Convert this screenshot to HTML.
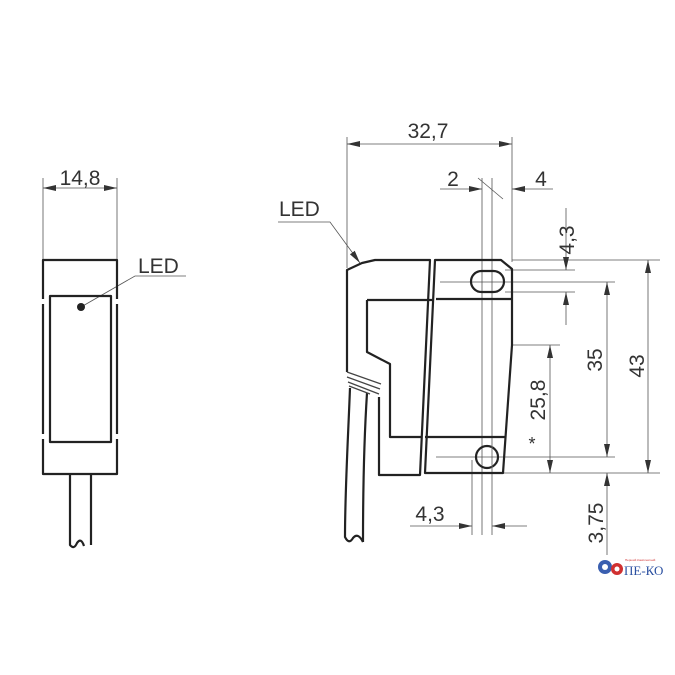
<!DOCTYPE html>
<html><head><meta charset="utf-8"><style>
html,body{margin:0;padding:0;background:#fff;}
svg{display:block;}
text{font-family:"Liberation Sans",sans-serif;fill:#333;}
</style></head><body>
<svg width="675" height="675" viewBox="0 0 675 675" xmlns="http://www.w3.org/2000/svg">
<defs>
<marker id="a" viewBox="0 0 13 6" refX="13" refY="3" markerWidth="13" markerHeight="6" orient="auto-start-reverse" markerUnits="userSpaceOnUse">
<path d="M0,0 L13,3 L0,6 z" fill="#333"/></marker>
</defs>
<!-- LEFT VIEW -->
<g stroke="#555" stroke-width="0.8" fill="none">
<line x1="43" y1="178" x2="43" y2="260"/><line x1="117" y1="178" x2="117" y2="260"/>
<line x1="43" y1="188" x2="117" y2="188" marker-start="url(#a)" marker-end="url(#a)"/>
<polyline points="81,307 135,276 186,276"/>
</g>
<text x="80" y="185" font-size="21" text-anchor="middle">14,8</text>
<text x="138" y="273" font-size="21">LED</text>
<g stroke="#222" stroke-width="2.2" fill="none" stroke-linejoin="round">
<path d="M43,299 V260 H117 V299 M43,304 V434 M117,304 V434 M43,439 V474 H117 V439"/>
<rect x="50" y="296" width="61" height="146"/>
<path d="M70,474 V545 Q74,550 77,543 Q81,537 84,546 M91,474 V545"/>
</g>
<circle cx="81" cy="307" r="4" fill="#222"/>

<!-- RIGHT VIEW dimension lines -->
<g stroke="#555" stroke-width="0.8" fill="none">
<line x1="347" y1="137" x2="347" y2="268"/><line x1="512" y1="137" x2="512" y2="262"/>
<line x1="347" y1="144" x2="512" y2="144" marker-start="url(#a)" marker-end="url(#a)"/>
<line x1="482" y1="178" x2="482" y2="535"/><line x1="492" y1="178" x2="492" y2="535"/>
<line x1="478" y1="178" x2="503" y2="199"/>
<line x1="440" y1="189" x2="482" y2="189" marker-end="url(#a)"/>
<line x1="553" y1="189" x2="512" y2="189" marker-end="url(#a)"/>
<line x1="512" y1="260" x2="660" y2="260"/>
<line x1="505" y1="270" x2="575" y2="270"/>
<line x1="440" y1="282" x2="615" y2="282"/>
<line x1="505" y1="292" x2="575" y2="292"/>
<line x1="512" y1="345" x2="560" y2="345"/>
<line x1="436" y1="457" x2="615" y2="457"/>
<line x1="503" y1="473" x2="660" y2="473"/>
<line x1="566" y1="208" x2="566" y2="270" marker-end="url(#a)"/>
<line x1="566" y1="325" x2="566" y2="292" marker-end="url(#a)"/>
<line x1="607" y1="282" x2="607" y2="457" marker-start="url(#a)" marker-end="url(#a)"/>
<line x1="607" y1="555" x2="607" y2="473" marker-end="url(#a)"/>
<line x1="648" y1="260" x2="648" y2="473" marker-start="url(#a)" marker-end="url(#a)"/>
<line x1="550" y1="345" x2="550" y2="473" marker-start="url(#a)" marker-end="url(#a)"/>
<line x1="472" y1="460" x2="472" y2="535"/>
<line x1="410" y1="526" x2="472" y2="526" marker-end="url(#a)"/>
<line x1="527" y1="526" x2="492" y2="526" marker-end="url(#a)"/>
<polyline points="278,222 330,222 360,263" marker-end="url(#a)"/>
</g>
<text x="428" y="138" font-size="21" text-anchor="middle">32,7</text>
<text x="453" y="186" font-size="21" text-anchor="middle">2</text>
<text x="541" y="186" font-size="21" text-anchor="middle">4</text>
<text x="430" y="521" font-size="21" text-anchor="middle">4,3</text>
<text x="279" y="216" font-size="21">LED</text>
<text x="532" y="450" font-size="18" text-anchor="middle">*</text>
<g font-size="21" text-anchor="middle">
<text transform="translate(574,240) rotate(-90)">4,3</text>
<text transform="translate(602,360) rotate(-90)">35</text>
<text transform="translate(644,366) rotate(-90)">43</text>
<text transform="translate(545,400) rotate(-90)">25,8</text>
<text transform="translate(603,523) rotate(-90)">3,75</text>
</g>

<!-- RIGHT VIEW body -->
<g stroke="#222" stroke-width="2.2" fill="none" stroke-linejoin="round">
<path d="M347,372 V270 L362,263 L375,260 H430 L420,475 H379 V397"/>
<path d="M435,260 H501 L512,269 V345 L503,473 H425 Z"/>
<path d="M367,300 H432 M436,299 H512 M367,300 V352 L390,364 V437 H422 M425,437 H505"/>
<rect x="471" y="271" width="33" height="21" rx="10.5"/>
<circle cx="487" cy="457" r="11"/>
<path d="M350,388 C348,440 345,490 345,537 Q349,545 353,538 Q358,532 363,542 M367,393 C364,440 363,490 363,542"/>
</g>
<g stroke="#444" stroke-width="1.3">
<line x1="347" y1="372" x2="381" y2="384"/><line x1="347" y1="377" x2="380" y2="389"/>
<line x1="348" y1="382" x2="379" y2="394"/><line x1="349" y1="386" x2="370" y2="394"/>
</g>
<line x1="492" y1="300" x2="492" y2="470" stroke="#777" stroke-width="0.8" stroke-dasharray="14,6"/>

<!-- logo -->
<g>
<circle cx="605" cy="567" r="7" fill="#3a5fb0"/><circle cx="605" cy="567" r="3" fill="#fff"/>
<circle cx="617" cy="569" r="6" fill="#d03030"/><circle cx="617" cy="569" r="2.5" fill="#fff"/>
<text x="624" y="575" font-size="13" style="fill:#2a4fa0;font-family:'Liberation Serif',serif">ПЕ-КО</text>
<text x="625" y="561" font-size="3" style="fill:#d03030">Перший Комплектний</text>
</g>
</svg>
</body></html>
